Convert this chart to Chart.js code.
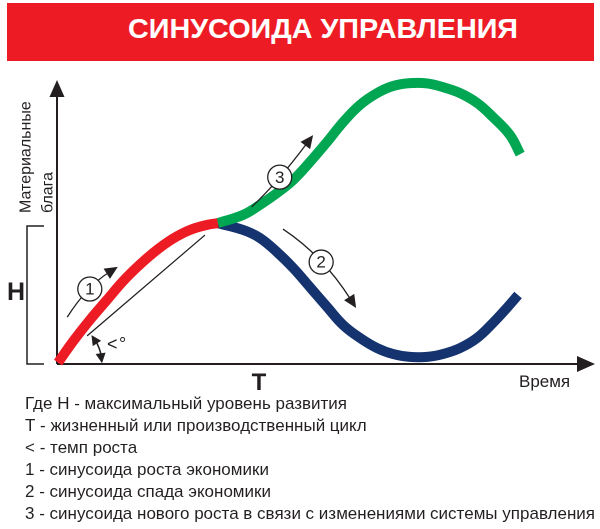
<!DOCTYPE html>
<html><head><meta charset="utf-8">
<script src="https://cdn.jsdelivr.net/npm/chart.js@4.4.0/dist/chart.umd.min.js"></script>
<style>
html,body{margin:0;padding:0;background:#fff;}
#wrap{position:relative;width:600px;height:529px;overflow:hidden;}
#c{position:absolute;left:0;top:0;width:600px;height:529px;}
#banner{position:absolute;left:7px;top:3px;width:587px;height:58px;background:#ED1C24;}
#title{position:absolute;left:128px;top:14.6px;margin:0;color:#fff;font:bold 28px "Liberation Sans",Arial,sans-serif;line-height:28px;white-space:nowrap;transform-origin:0 50%;}
#legend{position:absolute;left:25px;top:393px;color:#231F20;font:17px "Liberation Sans",Arial,sans-serif;transform-origin:0 0;}
#legend div{height:22px;line-height:22px;white-space:nowrap;}
</style>
</head><body>
<div id="wrap">
<canvas id="c" width="600" height="529"></canvas>
<div id="banner"></div>
<h1 id="title">СИНУСОИДА УПРАВЛЕНИЯ</h1>
<div id="legend"></div>
</div>
<script>
// ---- data (x = время, y = материальные блага, 0..100) ----
const redX   = [0.2, 3.0, 6.1, 9.3, 12.3, 15.4, 18.6, 21.6, 24.7, 27.9, 29.9];
const redY   = [0.5, 8.0, 15.5, 22.6, 29.2, 35.0, 40.2, 44.2, 47.2, 49.0, 49.6];
const greenX = [29.9, 34.6, 37.7, 40.9, 43.9, 47.0, 50.2, 53.2, 56.3, 59.5, 62.5, 65.6, 68.8, 71.7, 74.9, 78.1, 81.0, 84.2, 86.1];
const greenY = [49.6, 52.5, 56.0, 60.2, 64.8, 71.1, 78.2, 85.2, 91.2, 95.4, 97.9, 98.9, 98.8, 97.5, 95.4, 91.9, 87.0, 80.6, 73.9];
const navyX  = [29.9, 34.6, 37.7, 40.9, 43.9, 47.0, 50.2, 53.2, 56.3, 59.5, 62.5, 65.6, 68.8, 71.7, 74.9, 78.1, 81.0, 83.6, 85.7];
const navyY  = [49.6, 47.2, 44.4, 39.4, 33.8, 27.1, 20.1, 13.7, 9.2, 5.6, 3.5, 2.5, 2.5, 3.5, 5.6, 9.2, 14.4, 19.7, 24.3];
const H_LEVEL = 48.6;
const axisLabelsY = ['Материальные', 'блага'];
const axisLabelX = 'Время';
const legendLines = [
  'Где Н - максимальный уровень развития',
  'Т - жизненный или производственный цикл',
  '< - темп роста',
  '1 - синусоида роста экономики',
  '2 - синусоида спада экономики',
  '3 - синусоида нового роста в связи с изменениями системы управления'
];

// annotation geometry in data units
const annot = {
  tangent: [[5.6, 9.9], [27.5, 45.4]],
  a1: {from: [1.9, 16.5], circle: [6.1, 26.4], tip: [11.3, 34.2], label: '1'},
  a3: {from: [36.2, 55.3], circle: [41.4, 65.8], tip: [47.6, 80.6], label: '3'},
  a2: {from: [42.0, 47.5], circle: [49.1, 35.9], tip: [55.6, 19.7], label: '2'},
  angleText: [9.3, 5.0]
};

const INK = '#231F20';
const pts = (xs, ys) => xs.map((x, i) => ({x, y: ys[i]}));

function head(ctx, x, y, dx, dy, len, hw) {
  const m = Math.hypot(dx, dy); dx /= m; dy /= m;
  const bx = x - dx * len, by = y - dy * len;
  ctx.beginPath();
  ctx.moveTo(x, y);
  ctx.lineTo(bx - dy * hw, by + dx * hw);
  ctx.lineTo(bx + dy * hw, by - dx * hw);
  ctx.closePath(); ctx.fill();
}
function circleNum(ctx, cx, cy, t) {
  ctx.beginPath(); ctx.arc(cx, cy, 12, 0, Math.PI * 2);
  ctx.fillStyle = '#fff'; ctx.fill();
  ctx.lineWidth = 1.3; ctx.strokeStyle = INK; ctx.stroke();
  ctx.fillStyle = INK; ctx.font = '17px "Liberation Sans", Arial, sans-serif';
  ctx.textAlign = 'center'; ctx.textBaseline = 'middle';
  ctx.fillText(t, cx, cy + 1);
}

const decor = {
  id: 'decor',
  beforeDatasetsDraw(chart) {
    const {ctx, scales: {x, y}} = chart;
    const X = v => x.getPixelForValue(v), Y = v => y.getPixelForValue(v);
    ctx.save();
    ctx.strokeStyle = INK; ctx.fillStyle = INK;
    const ox = X(0), oy = Y(0), tx = X(100), ty = Y(100);
    ctx.lineWidth = 2;
    ctx.beginPath(); ctx.moveTo(ox, oy); ctx.lineTo(ox, ty + 12); ctx.stroke();
    head(ctx, ox, ty, 0, -1, 17, 7.5);
    ctx.beginPath(); ctx.moveTo(ox, oy); ctx.lineTo(tx - 12, oy); ctx.stroke();
    head(ctx, tx, oy, 1, 0, 18, 8);
    // H bracket
    const hb = Y(H_LEVEL);
    ctx.lineWidth = 1.5;
    ctx.beginPath(); ctx.moveTo(44, hb); ctx.lineTo(27, hb); ctx.lineTo(27, oy); ctx.lineTo(44, oy); ctx.stroke();
    // tangent line
    ctx.lineWidth = 1.3;
    ctx.beginPath();
    ctx.moveTo(X(annot.tangent[0][0]), Y(annot.tangent[0][1]));
    ctx.lineTo(X(annot.tangent[1][0]), Y(annot.tangent[1][1]));
    ctx.stroke();
    // texts
    ctx.textBaseline = 'alphabetic';
    ctx.font = 'bold 25px "Liberation Sans", Arial, sans-serif'; ctx.textAlign = 'center';
    ctx.fillText('Н', 16, 300);
    ctx.font = 'bold 24px "Liberation Sans", Arial, sans-serif';
    ctx.fillText('Т', 259, 390);
    ctx.font = '17px "Liberation Sans", Arial, sans-serif'; ctx.textAlign = 'left';
    ctx.fillText(axisLabelX, 519, 387, 57);
    ctx.save();
    ctx.font = '16px "Liberation Sans", Arial, sans-serif';
    ctx.textBaseline = 'middle'; ctx.textAlign = 'left';
    ctx.translate(26, 213); ctx.rotate(-Math.PI / 2);
    ctx.fillText(axisLabelsY[0], 0, 0, 118);
    ctx.translate(0, 22);
    ctx.fillText(axisLabelsY[1], 0, 0);
    ctx.restore();
    ctx.restore();
  },
  afterDatasetsDraw(chart) {
    const {ctx, scales: {x, y}} = chart;
    const X = v => x.getPixelForValue(v), Y = v => y.getPixelForValue(v);
    const P = p => [X(p[0]), Y(p[1])];
    ctx.save();
    ctx.strokeStyle = INK; ctx.fillStyle = INK; ctx.lineWidth = 1.5;
    // angle arc with two heads
    const ox = X(0), oy = Y(0), r = 45;
    const a0 = -40 * Math.PI / 180, a1 = -1 * Math.PI / 180;
    ctx.beginPath(); ctx.arc(ox, oy, r, a0 + 0.15, a1 - 0.15); ctx.stroke();
    head(ctx, ox + r * Math.cos(a0), oy + r * Math.sin(a0), Math.sin(a0 + 0.12), -Math.cos(a0 + 0.12), 10, 5);
    head(ctx, ox + r * Math.cos(a1), oy + r * Math.sin(a1), -Math.sin(a1 - 0.12), Math.cos(a1 - 0.12), 10, 5);
    // "<°"
    const [atx, aty] = P(annot.angleText);
    ctx.font = '18px "Liberation Sans", Arial, sans-serif'; ctx.textAlign = 'left'; ctx.textBaseline = 'alphabetic';
    ctx.fillText('<', atx, aty);
    ctx.fillText('°', atx + 12, aty);
    // arrows with circled numbers
    [annot.a1, annot.a3, annot.a2].forEach(a => {
      const [fx, fy] = P(a.from), [cx, cy] = P(a.circle), [px, py] = P(a.tip);
      const qx = 2 * cx - 0.5 * (fx + px), qy = 2 * cy - 0.5 * (fy + py);
      const hl = 13;
      const dx = px - qx, dy = py - qy, m = Math.hypot(dx, dy);
      ctx.lineWidth = 1.3;
      ctx.beginPath(); ctx.moveTo(fx, fy);
      ctx.quadraticCurveTo(qx, qy, px - dx / m * hl * 0.8, py - dy / m * hl * 0.8);
      ctx.stroke();
      ctx.fillStyle = INK;
      head(ctx, px, py, dx, dy, hl, 6);
      circleNum(ctx, cx, cy, a.label);
    });
    ctx.restore();
  }
};

const common = {borderWidth: 10, pointRadius: 0, fill: false, tension: 0.4, borderCapStyle: 'butt', borderJoinStyle: 'round', clip: false};
new Chart(document.getElementById('c'), {
  type: 'line',
  data: {
    datasets: [
      Object.assign({label: 'рост', data: pts(redX, redY), borderColor: '#ED1C24'}, common),
      Object.assign({label: 'новый рост', data: pts(greenX, greenY), borderColor: '#00A651'}, common),
      Object.assign({label: 'спад', data: pts(navyX, navyY), borderColor: '#14336F'}, common)
    ]
  },
  options: {
    responsive: false, animation: false, devicePixelRatio: 2,
    layout: {padding: {left: 57, right: 5, top: 80, bottom: 165}},
    scales: {
      x: {type: 'linear', min: 0, max: 100, display: false},
      y: {type: 'linear', min: 0, max: 100, display: false}
    },
    plugins: {legend: {display: false}, tooltip: {enabled: false}}
  },
  plugins: [decor]
});

// HTML texts: fit widths to the reference
const lg = document.getElementById('legend');
legendLines.forEach(t => { const d = document.createElement('div'); d.textContent = t; lg.appendChild(d); });
function fit() {
  const last = lg.lastChild;
  const s = 570 / last.getBoundingClientRect().width;
  lg.style.transform = 'scaleX(' + s + ')';
  const tt = document.getElementById('title');
  const ts = 390 / tt.getBoundingClientRect().width;
  tt.style.transform = 'scaleX(' + ts + ')';
}
fit();
</script>
</body></html>
